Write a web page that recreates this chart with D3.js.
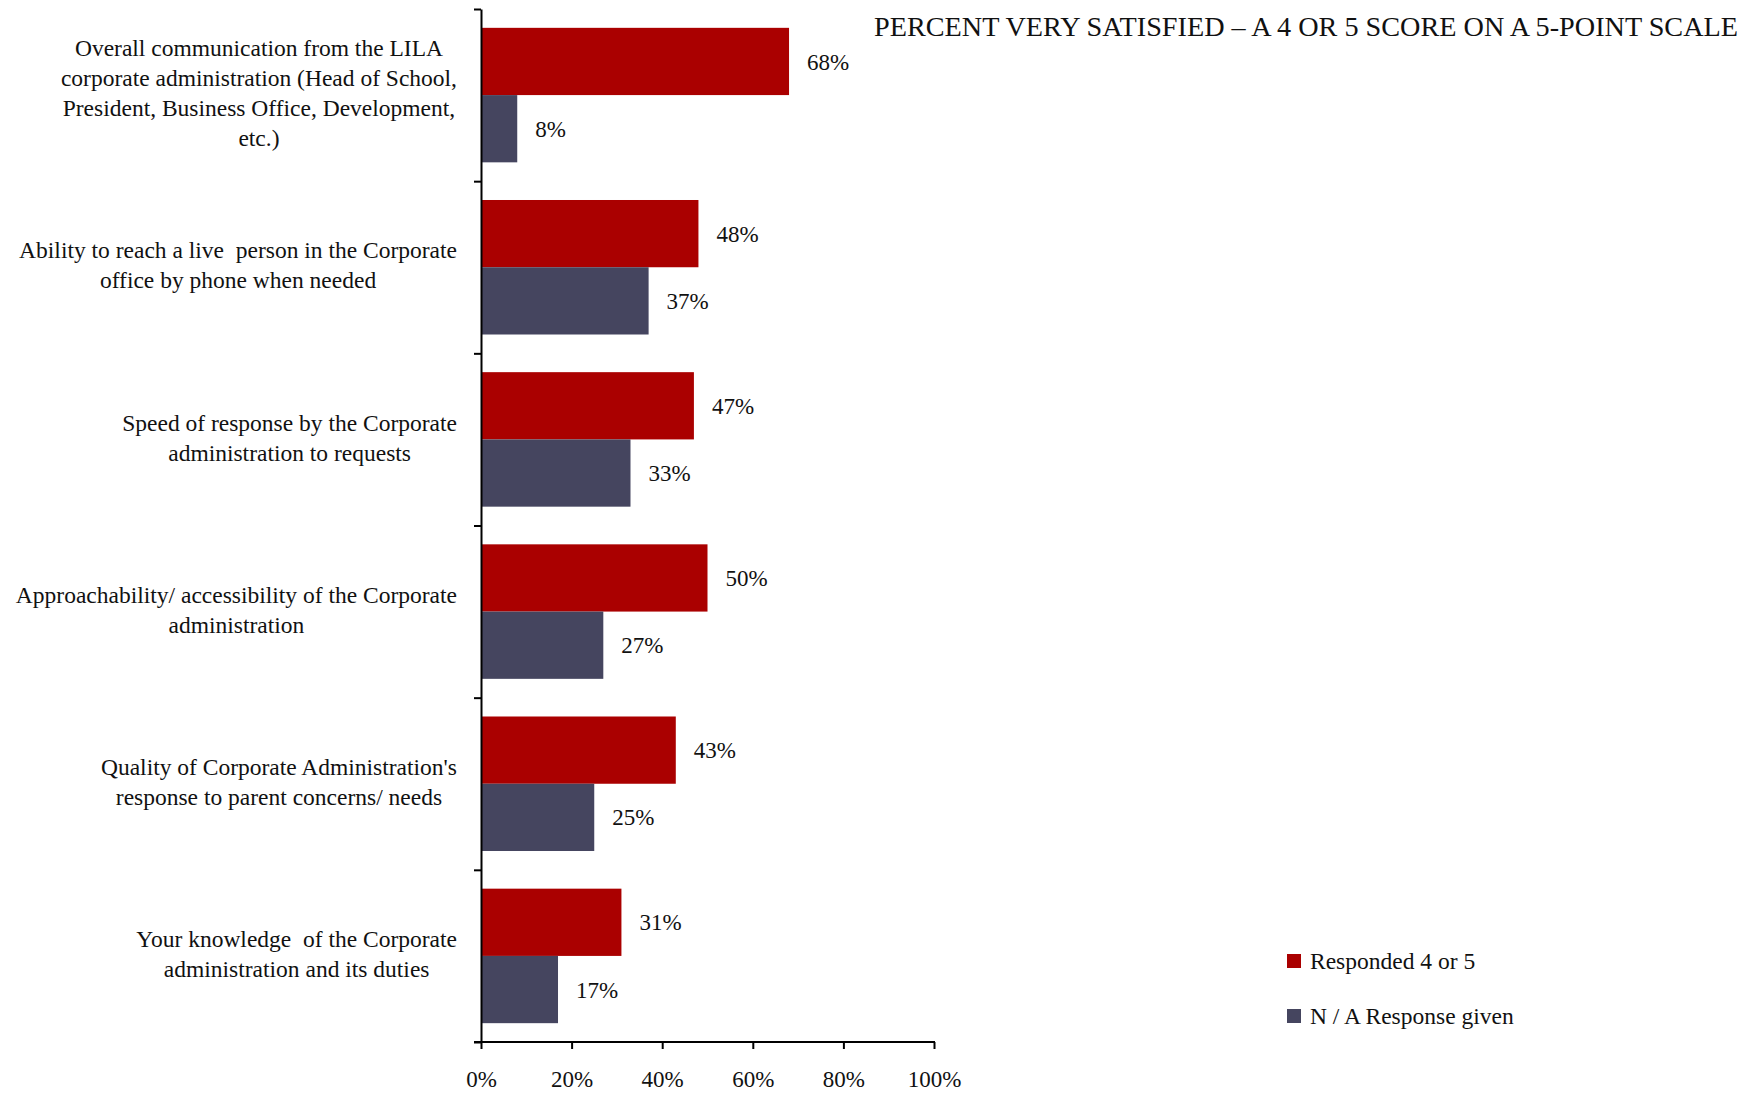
<!DOCTYPE html>
<html>
<head>
<meta charset="utf-8">
<script src="https://cdn.jsdelivr.net/npm/d3@7"></script>
<style>
  body { margin: 0; background: #fff; }
  text { font-family: "Liberation Serif", "DejaVu Serif", serif; fill: #111; }
</style>
</head>
<body>
<div id="chart"></div>
<script>
// Percent very satisfied - corporate administration items

const categories = [
    ["Overall communication from the LILA", "corporate administration (Head of School,", "President, Business Office, Development,", "etc.)"],
    ["Ability to reach a live  person in the Corporate", "office by phone when needed"],
    ["Speed of response by the Corporate", "administration to requests"],
    ["Approachability/ accessibility of the Corporate", "administration"],
    ["Quality of Corporate Administration's", "response to parent concerns/ needs"],
    ["Your knowledge  of the Corporate", "administration and its duties"]
];
const seriesNames = ["Responded 4 or 5", "N / A Response given"];
const responded = [68, 48, 47, 50, 43, 31];
const naGiven = [8, 37, 33, 27, 25, 17];
const xTicks = [0, 20, 40, 60, 80, 100];
const colors = ["#aa0000", "#45455f"];

(function() {
    const W = 1750, H = 1094;
    const svg = d3.select("#chart")
        .append("svg")
        .attr("width", W)
        .attr("height", H);

    const top = 9, bottom = 1042, left = 481, right = 934;

    const x = d3.scaleLinear().domain([0, 100]).range([left, right]);

    const y = d3.scaleBand()
        .domain(d3.range(categories.length))
        .range([top, bottom])
        .padding(0);

    const ySub = d3.scaleBand()
        .domain([0, 1])
        .range([0, y.bandwidth()])
        .paddingInner(0)
        .paddingOuter(0.28);

    // Bars
    const groups = svg.selectAll("g.grp")
        .data(categories.map((c, i) => ({i, vals: [responded[i], naGiven[i]]})))
        .enter()
        .append("g")
        .attr("class", "grp")
        .attr("transform", d => `translate(0,${y(d.i)})`);

    groups.selectAll("rect")
        .data(d => d.vals)
        .enter()
        .append("rect")
        .attr("x", x(0))
        .attr("y", (v, j) => ySub(j))
        .attr("width", v => x(v) - x(0))
        .attr("height", ySub.bandwidth())
        .attr("fill", (v, j) => colors[j]);

    // Value labels
    groups.selectAll("text.val")
        .data(d => d.vals)
        .enter()
        .append("text")
        .attr("class", "val")
        .attr("x", v => x(v) + 18)
        .attr("y", (v, j) => ySub(j) + ySub.bandwidth() / 2)
        .attr("dy", "0.35em")
        .style("font-size", "23px")
        .text(v => v + "%");

    // Y axis with ticks at category boundaries
    const yEdge = d3.scaleLinear().domain([0, categories.length]).range([top, bottom]);
    svg.append("g")
        .attr("transform", `translate(${left},0)`)
        .call(d3.axisLeft(yEdge).ticks(categories.length).tickFormat("").tickSize(7).tickSizeOuter(0))
        .call(g => g.selectAll("line, path").attr("stroke", "#000").attr("stroke-width", 2));

    // X axis
    svg.append("g")
        .attr("transform", `translate(0,${bottom})`)
        .call(d3.axisBottom(x).tickValues(xTicks).tickFormat(d => d + "%").tickSize(7).tickSizeOuter(0).tickPadding(22))
        .call(g => g.select(".domain").remove())
        .call(g => g.selectAll("line").attr("stroke", "#000").attr("stroke-width", 2))
        .call(g => g.selectAll("text").style("font-size", "23px").attr("fill", "#111")
            .style("font-family", "'Liberation Serif', serif"));
    svg.append("line")
        .attr("x1", left - 7).attr("x2", right + 1)
        .attr("y1", bottom).attr("y2", bottom)
        .attr("stroke", "#000").attr("stroke-width", 2);

    // Category labels: each block centered, block right-aligned
    const labelRight = 457, lineH = 30;
    categories.forEach((lines, i) => {
        const g = svg.append("g");
        const cy = y(i) + y.bandwidth() / 2 - 2;
        const texts = g.selectAll("text")
            .data(lines)
            .enter()
            .append("text")
            .attr("text-anchor", "middle")
            .attr("y", (d, k) => cy + (k - (lines.length - 1) / 2) * lineH)
            .attr("dy", "0.35em")
            .style("font-size", "23.5px")
            .style("white-space", "pre")
            .text(d => d);
        let maxW = 0;
        texts.each(function() { maxW = Math.max(maxW, this.getComputedTextLength()); });
        texts.attr("x", labelRight - maxW / 2);
    });

    // Title
    svg.append("text")
        .attr("x", 874)
        .attr("y", 36)
        .attr("textLength", 864)
        .attr("lengthAdjust", "spacingAndGlyphs")
        .style("font-size", "27px")
        .text("PERCENT VERY SATISFIED – A 4 OR 5 SCORE ON A 5-POINT SCALE");

    // Legend
    const legend = svg.selectAll("g.leg")
        .data(seriesNames)
        .enter()
        .append("g")
        .attr("class", "leg")
        .attr("transform", (d, i) => `translate(1287,${954 + i * 55})`);
    legend.append("rect")
        .attr("width", 14)
        .attr("height", 14)
        .attr("fill", (d, i) => colors[i]);
    legend.append("text")
        .attr("x", 23)
        .attr("y", 7)
        .attr("dy", "0.35em")
        .style("font-size", "23.5px")
        .text(d => d);
})();
</script>
</body>
</html>
